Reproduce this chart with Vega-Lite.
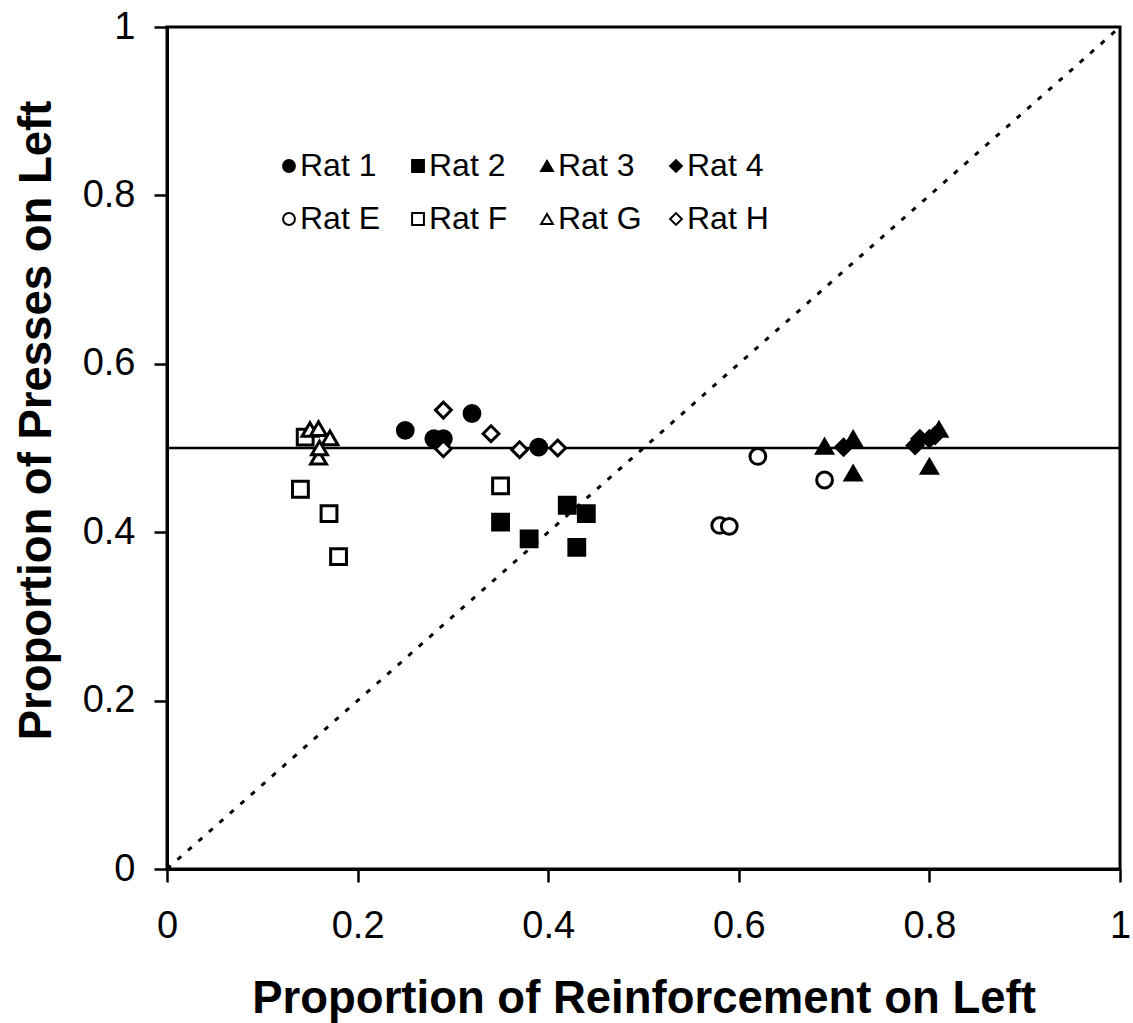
{
  "$schema": "https://vega.github.io/schema/vega-lite/v6.json",
  "width": 953,
  "height": 842,
  "autosize": {"type": "none"},
  "padding": {"left": 167, "top": 27, "right": 13, "bottom": 154},
  "background": "white",
  "config": {
    "font": "Liberation Sans",
    "view": {"stroke": "black", "strokeWidth": 3},
    "axis": {
      "grid": false,
      "domainColor": "black",
      "domainWidth": 3,
      "tickColor": "black",
      "tickWidth": 2.5,
      "tickSize": 13,
      "labelFont": "Liberation Sans",
      "labelFontSize": 38,
      "labelColor": "black",
      "labelFlush": false,
      "labelOverlap": false,
      "titleFont": "Liberation Sans",
      "titleFontSize": 45.5,
      "titleFontWeight": "bold",
      "titleColor": "black"
    },
    "axisX": {"labelPadding": 25, "titlePadding": 31},
    "axisY": {"labelPadding": 19, "titlePadding": 22, "titleY": 393}
  },
  "layer": [
    {
      "data": {"values": [{"x": 0, "y": 0}, {"x": 1, "y": 1}]},
      "mark": {"type": "line", "strokeDash": [5, 9], "strokeWidth": 3, "color": "black"},
      "encoding": {
        "x": {"field": "x", "type": "quantitative", "scale": {"domain": [0, 1], "nice": false}, "title": "Proportion of Reinforcement on Left", "axis": {"values": [0, 0.2, 0.4, 0.6, 0.8, 1], "format": "~g"}},
        "y": {"field": "y", "type": "quantitative", "scale": {"domain": [0, 1], "nice": false}, "title": "Proportion of Presses on Left", "axis": {"values": [0, 0.2, 0.4, 0.6, 0.8, 1], "format": "~g"}}
      }
    },
    {
      "data": {"values": [{"y": 0.5}]},
      "mark": {"type": "rule", "strokeWidth": 2.5, "color": "black"},
      "encoding": {
        "y": {"field": "y", "type": "quantitative", "title": "Proportion of Presses on Left", "axis": {"values": [0, 0.2, 0.4, 0.6, 0.8, 1], "format": "~g"}}
      }
    },
    {
      "data": {"values": [
        {"rat": "Rat 1", "x": 0.25, "y": 0.521},
        {"rat": "Rat 1", "x": 0.28, "y": 0.511},
        {"rat": "Rat 1", "x": 0.29, "y": 0.511},
        {"rat": "Rat 1", "x": 0.32, "y": 0.541},
        {"rat": "Rat 1", "x": 0.39, "y": 0.501},
        {"rat": "Rat 2", "x": 0.35, "y": 0.412},
        {"rat": "Rat 2", "x": 0.38, "y": 0.392},
        {"rat": "Rat 2", "x": 0.42, "y": 0.432},
        {"rat": "Rat 2", "x": 0.44, "y": 0.422},
        {"rat": "Rat 2", "x": 0.43, "y": 0.382},
        {"rat": "Rat 3", "x": 0.69, "y": 0.502},
        {"rat": "Rat 3", "x": 0.72, "y": 0.511},
        {"rat": "Rat 3", "x": 0.72, "y": 0.47},
        {"rat": "Rat 3", "x": 0.80, "y": 0.478},
        {"rat": "Rat 3", "x": 0.81, "y": 0.522},
        {"rat": "Rat 4", "x": 0.71, "y": 0.501},
        {"rat": "Rat 4", "x": 0.785, "y": 0.503},
        {"rat": "Rat 4", "x": 0.79, "y": 0.511},
        {"rat": "Rat 4", "x": 0.80, "y": 0.511},
        {"rat": "Rat 4", "x": 0.806, "y": 0.515},
        {"rat": "Rat E", "x": 0.58, "y": 0.408},
        {"rat": "Rat E", "x": 0.59, "y": 0.407},
        {"rat": "Rat E", "x": 0.62, "y": 0.49},
        {"rat": "Rat E", "x": 0.69, "y": 0.462},
        {"rat": "Rat F", "x": 0.14, "y": 0.451},
        {"rat": "Rat F", "x": 0.17, "y": 0.422},
        {"rat": "Rat F", "x": 0.18, "y": 0.371},
        {"rat": "Rat F", "x": 0.35, "y": 0.455},
        {"rat": "Rat F", "x": 0.145, "y": 0.513},
        {"rat": "Rat G", "x": 0.15, "y": 0.522},
        {"rat": "Rat G", "x": 0.159, "y": 0.523},
        {"rat": "Rat G", "x": 0.171, "y": 0.512},
        {"rat": "Rat G", "x": 0.159, "y": 0.489},
        {"rat": "Rat G", "x": 0.16, "y": 0.5},
        {"rat": "Rat H", "x": 0.29, "y": 0.545},
        {"rat": "Rat H", "x": 0.29, "y": 0.499},
        {"rat": "Rat H", "x": 0.34, "y": 0.517},
        {"rat": "Rat H", "x": 0.37, "y": 0.498},
        {"rat": "Rat H", "x": 0.41, "y": 0.5}
      ]},
      "mark": {"type": "point", "filled": true, "stroke": "black", "strokeWidth": 3, "opacity": 1, "size": 250},
      "encoding": {
        "x": {"field": "x", "type": "quantitative", "title": "Proportion of Reinforcement on Left", "axis": {"values": [0, 0.2, 0.4, 0.6, 0.8, 1], "format": "~g"}},
        "y": {"field": "y", "type": "quantitative", "title": "Proportion of Presses on Left", "axis": {"values": [0, 0.2, 0.4, 0.6, 0.8, 1], "format": "~g"}},
        "shape": {
          "field": "rat", "type": "nominal",
          "scale": {"domain": ["Rat 1", "Rat 2", "Rat 3", "Rat 4", "Rat E", "Rat F", "Rat G", "Rat H"],
                    "range": ["circle", "square", "triangle-up", "diamond", "circle", "square", "triangle-up", "diamond"]},
          "legend": {"title": null, "orient": "none", "direction": "horizontal", "legendX": 106, "legendY": 123, "columns": 4, "gridAlign": "all", "columnPadding": 18, "rowPadding": 21, "padding": 0, "labelFontSize": 32, "labelFont": "Liberation Sans", "labelColor": "black", "labelOffset": -5, "symbolSize": 140, "symbolStrokeWidth": 2,
            "encode": {"symbols": {"update": {"stroke": {"value": "black"}, "strokeWidth": {"value": 2}, "opacity": {"value": 1}, "strokeOpacity": {"value": 1}}}}}
        },
        "color": {
          "field": "rat", "type": "nominal",
          "scale": {"domain": ["Rat 1", "Rat 2", "Rat 3", "Rat 4", "Rat E", "Rat F", "Rat G", "Rat H"],
                    "range": ["black", "black", "black", "black", "white", "white", "white", "white"]},
          "legend": {"title": null, "orient": "none", "direction": "horizontal", "legendX": 106, "legendY": 123, "columns": 4, "gridAlign": "all", "columnPadding": 18, "rowPadding": 21, "padding": 0, "labelFontSize": 32, "labelFont": "Liberation Sans", "labelColor": "black", "labelOffset": -5, "symbolSize": 140, "symbolStrokeWidth": 2,
            "encode": {"symbols": {"update": {"stroke": {"value": "black"}, "strokeWidth": {"value": 2}, "opacity": {"value": 1}, "strokeOpacity": {"value": 1}}}}}
        }
      }
    }
  ]
}
